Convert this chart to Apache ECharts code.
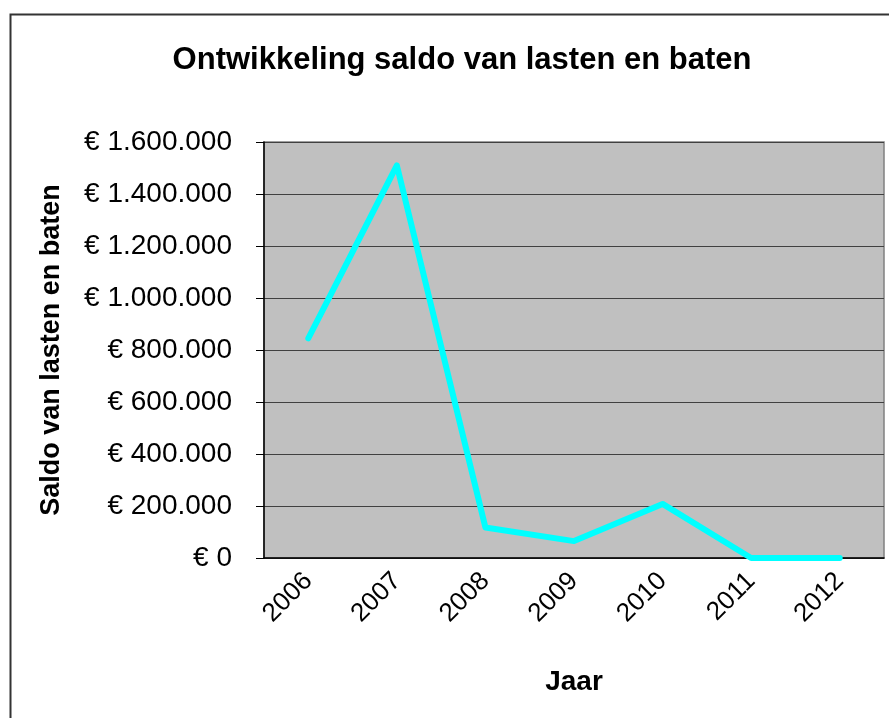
<!DOCTYPE html>
<html>
<head>
<meta charset="utf-8">
<script src="https://cdn.jsdelivr.net/npm/echarts@6/dist/echarts.min.js"></script>
<style>
html,body{margin:0;padding:0;background:#fff;}
#chart{width:889px;height:718px;}
</style>
</head>
<body>
<div id="chart"></div>
<script>
const categories = ['2006','2007','2008','2009','2010','2011','2012'];
const saldo = [845000, 1510000, 117000, 65000, 208000, 0, 0];
const yTicks = { min: 0, max: 1600000, interval: 200000 };
const titleText = 'Ontwikkeling saldo van lasten en baten';
const xName = 'Jaar';
const yName = 'Saldo van lasten en baten';

function euro(v){
  const s = Math.round(v).toString().replace(/\B(?=(\d{3})+(?!\d))/g, '.');
  return '€ ' + s;
}

const chart = echarts.init(document.getElementById('chart'));
chart.setOption({
  backgroundColor: '#ffffff',
  animation: false,
  title: {
    text: titleText,
    left: 457, top: 40, textAlign: 'center',
    textStyle: { fontFamily: 'Liberation Sans', fontWeight: 'bold', fontSize: 31, color: '#000' }
  },
  graphic: [{
    type: 'rect', left: 8, top: 12,
    shape: { x: 0, y: 0, width: 900, height: 720 },
    style: { fill: 'none', stroke: '#333', lineWidth: 2 },
    silent: true, z: 100
  }],
  grid: {
    left: 264, right: 5, top: 142, bottom: 160,
    show: true, backgroundColor: '#c0c0c0', borderColor: '#808080', borderWidth: 1.5
  },
  xAxis: {
    type: 'category', data: categories, boundaryGap: true,
    name: xName, nameLocation: 'middle', nameGap: 110,
    nameTextStyle: { fontFamily: 'Liberation Sans', fontWeight: 'bold', fontSize: 28, color: '#000' },
    axisLine: { lineStyle: { color: '#000', width: 1.5 } },
    axisTick: { show: false },
    axisLabel: { rotate: 45, margin: 19, fontFamily: 'Liberation Sans', fontSize: 26, color: '#000' }
  },
  yAxis: {
    type: 'value', min: yTicks.min, max: yTicks.max, interval: yTicks.interval,
    name: yName, nameLocation: 'middle', nameGap: 199, nameRotate: 90,
    nameTextStyle: { fontFamily: 'Liberation Sans', fontWeight: 'bold', fontSize: 27, color: '#000' },
    axisLine: { show: true, lineStyle: { color: '#000', width: 1.5 } },
    axisTick: { show: true, length: 8, lineStyle: { color: '#000' } },
    splitLine: { show: true, lineStyle: { color: '#404040', width: 1 } },
    axisLabel: { formatter: euro, margin: 32, fontFamily: 'Liberation Sans', fontSize: 28, color: '#000' }
  },
  series: [{
    type: 'line', data: saldo, showSymbol: false, symbol: 'none',
    lineStyle: { color: '#00ffff', width: 6, cap: 'round', join: 'round' },
    itemStyle: { color: '#00ffff' }
  }]
});
</script>
</body>
</html>
